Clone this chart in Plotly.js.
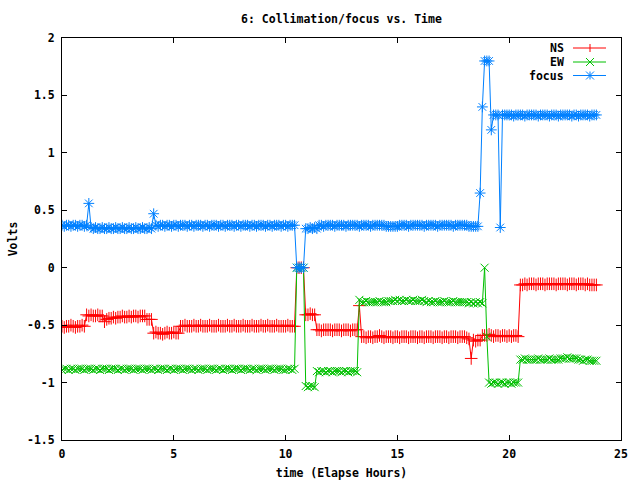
<!DOCTYPE html>
<html>
<head>
<meta charset="utf-8">
<script src="https://cdn.plot.ly/plotly-3.0.1.min.js"></script>
<style>html,body{margin:0;padding:0;background:#fff;}#chart{width:640px;height:480px;}</style>
</head>
<body>
<div id="chart"></div>
<script>
// Elapsed time in hours (one sample every 6 minutes)
const hours = [
 0.0,0.1,0.2,0.3,0.4,0.5,0.6,0.7,0.8,0.9,
 1.0,1.1,1.2,1.3,1.4,1.5,1.6,1.7,1.8,1.9,
 2.0,2.1,2.2,2.3,2.4,2.5,2.6,2.7,2.8,2.9,
 3.0,3.1,3.2,3.3,3.4,3.5,3.6,3.7,3.8,3.9,
 4.0,4.1,4.2,4.3,4.4,4.5,4.6,4.7,4.8,4.9,
 5.0,5.1,5.2,5.3,5.4,5.5,5.6,5.7,5.8,5.9,
 6.0,6.1,6.2,6.3,6.4,6.5,6.6,6.7,6.8,6.9,
 7.0,7.1,7.2,7.3,7.4,7.5,7.6,7.7,7.8,7.9,
 8.0,8.1,8.2,8.3,8.4,8.5,8.6,8.7,8.8,8.9,
 9.0,9.1,9.2,9.3,9.4,9.5,9.6,9.7,9.8,9.9,
 10.0,10.1,10.2,10.3,10.4,10.5,10.6,10.7,10.8,10.9,
 11.0,11.1,11.2,11.3,11.4,11.5,11.6,11.7,11.8,11.9,
 12.0,12.1,12.2,12.3,12.4,12.5,12.6,12.7,12.8,12.9,
 13.0,13.1,13.2,13.3,13.4,13.5,13.6,13.7,13.8,13.9,
 14.0,14.1,14.2,14.3,14.4,14.5,14.6,14.7,14.8,14.9,
 15.0,15.1,15.2,15.3,15.4,15.5,15.6,15.7,15.8,15.9,
 16.0,16.1,16.2,16.3,16.4,16.5,16.6,16.7,16.8,16.9,
 17.0,17.1,17.2,17.3,17.4,17.5,17.6,17.7,17.8,17.9,
 18.0,18.1,18.2,18.3,18.4,18.5,18.6,18.7,18.8,18.9,
 19.0,19.1,19.2,19.3,19.4,19.5,19.6,19.7,19.8,19.9,
 20.0,20.1,20.2,20.3,20.4,20.5,20.6,20.7,20.8,20.9,
 21.0,21.1,21.2,21.3,21.4,21.5,21.6,21.7,21.8,21.9,
 22.0,22.1,22.2,22.3,22.4,22.5,22.6,22.7,22.8,22.9,
 23.0,23.1,23.2,23.3,23.4,23.5,23.6,23.7,23.8,23.9
];

const ns = [
 -0.51,-0.52,-0.51,-0.51,-0.50,-0.51,-0.52,-0.51,-0.51,-0.50,
 -0.51,-0.41,-0.42,-0.41,-0.42,-0.42,-0.41,-0.42,-0.42,-0.47,
 -0.45,-0.44,-0.44,-0.43,-0.44,-0.43,-0.43,-0.42,-0.43,-0.43,
 -0.42,-0.43,-0.42,-0.42,-0.43,-0.42,-0.42,-0.42,-0.45,-0.45,
 -0.45,-0.57,-0.56,-0.57,-0.57,-0.58,-0.57,-0.56,-0.57,-0.57,
 -0.56,-0.57,-0.57,-0.51,-0.51,-0.50,-0.51,-0.51,-0.51,-0.50,
 -0.51,-0.51,-0.50,-0.51,-0.51,-0.51,-0.50,-0.51,-0.51,-0.51,
 -0.50,-0.51,-0.51,-0.51,-0.50,-0.51,-0.51,-0.50,-0.51,-0.51,
 -0.51,-0.50,-0.51,-0.51,-0.51,-0.50,-0.51,-0.51,-0.51,-0.50,
 -0.51,-0.51,-0.50,-0.51,-0.51,-0.51,-0.50,-0.51,-0.51,-0.51,
 -0.51,-0.50,-0.51,-0.51,-0.51,0.00,0.00,0.00,0.00,-0.41,
 -0.41,-0.40,-0.41,-0.41,-0.54,-0.54,-0.55,-0.54,-0.54,-0.54,
 -0.54,-0.55,-0.54,-0.54,-0.54,-0.55,-0.54,-0.54,-0.54,-0.55,
 -0.54,-0.54,-0.54,-0.33,-0.60,-0.60,-0.61,-0.60,-0.60,-0.61,
 -0.60,-0.60,-0.59,-0.60,-0.61,-0.60,-0.60,-0.60,-0.61,-0.60,
 -0.60,-0.61,-0.60,-0.60,-0.60,-0.61,-0.60,-0.60,-0.60,-0.61,
 -0.60,-0.60,-0.61,-0.60,-0.60,-0.60,-0.61,-0.60,-0.60,-0.60,
 -0.61,-0.60,-0.60,-0.61,-0.60,-0.60,-0.60,-0.61,-0.60,-0.60,
 -0.60,-0.61,-0.62,-0.79,-0.63,-0.64,-0.63,-0.63,-0.59,-0.59,
 -0.59,-0.58,-0.59,-0.60,-0.59,-0.59,-0.60,-0.59,-0.59,-0.60,
 -0.59,-0.60,-0.59,-0.59,-0.60,-0.15,-0.15,-0.14,-0.15,-0.14,
 -0.14,-0.14,-0.15,-0.14,-0.14,-0.14,-0.15,-0.14,-0.14,-0.14,
 -0.14,-0.15,-0.14,-0.14,-0.14,-0.14,-0.15,-0.14,-0.14,-0.14,
 -0.15,-0.14,-0.14,-0.14,-0.15,-0.14,-0.15,-0.15,-0.15,-0.15
];

const ew = [
 -0.89,-0.88,-0.88,-0.89,-0.88,-0.88,-0.89,-0.88,-0.88,-0.88,
 -0.89,-0.88,-0.88,-0.88,-0.89,-0.88,-0.88,-0.89,-0.88,-0.88,
 -0.88,-0.89,-0.88,-0.88,-0.88,-0.89,-0.88,-0.88,-0.89,-0.88,
 -0.88,-0.88,-0.89,-0.88,-0.88,-0.88,-0.89,-0.88,-0.88,-0.88,
 -0.89,-0.88,-0.88,-0.89,-0.88,-0.88,-0.88,-0.89,-0.88,-0.88,
 -0.89,-0.88,-0.88,-0.88,-0.89,-0.88,-0.88,-0.88,-0.89,-0.88,
 -0.88,-0.89,-0.88,-0.88,-0.88,-0.89,-0.88,-0.88,-0.88,-0.89,
 -0.88,-0.88,-0.89,-0.88,-0.88,-0.88,-0.89,-0.88,-0.88,-0.88,
 -0.89,-0.88,-0.88,-0.88,-0.89,-0.88,-0.88,-0.89,-0.88,-0.88,
 -0.88,-0.89,-0.88,-0.88,-0.88,-0.89,-0.88,-0.88,-0.88,-0.89,
 -0.89,-0.88,-0.88,-0.89,-0.88,0.00,0.00,0.00,0.00,-1.03,
 -1.04,-1.03,-1.03,-1.04,-0.90,-0.91,-0.90,-0.90,-0.91,-0.90,
 -0.90,-0.91,-0.90,-0.90,-0.90,-0.91,-0.90,-0.90,-0.91,-0.90,
 -0.90,-0.90,-0.91,-0.28,-0.30,-0.30,-0.29,-0.30,-0.30,-0.30,
 -0.30,-0.30,-0.29,-0.30,-0.30,-0.30,-0.29,-0.29,-0.29,-0.28,
 -0.29,-0.28,-0.29,-0.29,-0.28,-0.29,-0.29,-0.28,-0.29,-0.29,
 -0.29,-0.28,-0.29,-0.30,-0.29,-0.30,-0.30,-0.29,-0.30,-0.30,
 -0.30,-0.29,-0.30,-0.30,-0.30,-0.29,-0.30,-0.30,-0.30,-0.30,
 -0.30,-0.30,-0.31,-0.30,-0.31,-0.30,-0.31,-0.30,-0.31,0.00,
 -0.60,-1.00,-1.01,-1.00,-1.00,-1.01,-1.00,-1.00,-1.01,-1.00,
 -1.00,-1.01,-1.00,-1.00,-1.00,-0.80,-0.80,-0.79,-0.80,-0.80,
 -0.80,-0.80,-0.80,-0.79,-0.80,-0.80,-0.80,-0.80,-0.79,-0.80,
 -0.80,-0.80,-0.80,-0.79,-0.79,-0.79,-0.78,-0.79,-0.79,-0.79,
 -0.79,-0.80,-0.80,-0.81,-0.80,-0.80,-0.81,-0.81,-0.81,-0.81
];

const focus = [
 0.37,0.36,0.37,0.37,0.36,0.37,0.37,0.36,0.37,0.37,
 0.36,0.37,0.56,0.35,0.34,0.35,0.34,0.34,0.35,0.34,
 0.34,0.35,0.34,0.34,0.35,0.34,0.34,0.35,0.34,0.34,
 0.35,0.34,0.34,0.35,0.34,0.34,0.35,0.34,0.34,0.35,
 0.34,0.47,0.37,0.36,0.37,0.37,0.36,0.37,0.37,0.36,
 0.37,0.37,0.36,0.37,0.37,0.37,0.36,0.37,0.37,0.36,
 0.37,0.37,0.37,0.36,0.37,0.37,0.36,0.37,0.37,0.37,
 0.36,0.37,0.37,0.36,0.37,0.37,0.37,0.36,0.37,0.37,
 0.36,0.37,0.37,0.37,0.36,0.37,0.37,0.36,0.37,0.37,
 0.37,0.36,0.37,0.37,0.36,0.37,0.37,0.37,0.36,0.37,
 0.37,0.36,0.37,0.37,0.37,0.00,0.00,0.00,0.00,0.34,
 0.34,0.35,0.34,0.35,0.34,0.37,0.37,0.36,0.37,0.37,
 0.37,0.37,0.36,0.37,0.37,0.37,0.37,0.36,0.37,0.37,
 0.37,0.37,0.37,0.36,0.37,0.37,0.37,0.37,0.36,0.37,
 0.37,0.37,0.37,0.37,0.37,0.36,0.36,0.36,0.36,0.36,
 0.36,0.37,0.37,0.37,0.37,0.36,0.37,0.37,0.37,0.37,
 0.37,0.37,0.36,0.37,0.37,0.37,0.37,0.37,0.36,0.37,
 0.37,0.37,0.37,0.37,0.37,0.36,0.37,0.37,0.37,0.37,
 0.37,0.37,0.36,0.36,0.36,0.36,0.36,0.65,1.40,1.80,
 1.80,1.80,1.20,1.33,1.33,1.33,0.35,1.33,1.33,1.33,
 1.33,1.33,1.32,1.33,1.33,1.33,1.33,1.32,1.33,1.33,
 1.33,1.33,1.33,1.32,1.33,1.33,1.33,1.33,1.32,1.33,
 1.33,1.33,1.32,1.33,1.33,1.33,1.33,1.33,1.32,1.33,
 1.33,1.32,1.33,1.33,1.33,1.33,1.32,1.33,1.33,1.33
];

const seriesNames = ["NS", "EW", "focus"];
const seriesColors = ["#ff0000", "#00c000", "#0080ff"];
const seriesSymbols = ["cross-thin", "x-thin", "asterisk"];

const xTickVals = [0, 5, 10, 15, 20, 25];
const xTickText = ["0", "5", "10", "15", "20", "25"];
const yTickVals = [-1.5, -1, -0.5, 0, 0.5, 1, 1.5, 2];
const yTickText = ["-1.5", "-1", "-0.5", "0", "0.5", "1", "1.5", "2"];

const FONT = {family: "DejaVu Sans Mono, Liberation Mono, monospace", size: 11.5, color: "#000", weight: "bold"};

const ys = [ns, ew, focus];
const traces = ys.map((y, k) => ({
  type: "scatter",
  mode: "lines+markers",
  name: seriesNames[k],
  x: hours,
  y: y,
  line: {color: seriesColors[k], width: 1},
  marker: {symbol: seriesSymbols[k], size: k === 1 ? 8 : 9, color: seriesColors[k],
           line: {color: seriesColors[k], width: 1}},
  showlegend: false
}));

// Plot area in pixels: left 62, right 621, top 38, bottom 440
const L = 62, R = 621, T = 38, B = 440;
const px = v => (v - L) / (R - L);
const py = v => (B - v) / (B - T);

// Hand-drawn gnuplot-style key (text right-aligned, sample line + point glyph on its right)
const legendRows = [48, 62, 75.5];
const shapes = [];
const annotations = [];
function seg(x0, y0, x1, y1, color) {
  shapes.push({type: "line", xref: "paper", yref: "paper", x0: px(x0), x1: px(x1), y0: py(y0), y1: py(y1),
    line: {color: color, width: 1}});
}
legendRows.forEach((row, k) => {
  const c = seriesColors[k];
  annotations.push({xref: "paper", yref: "paper", x: px(566), y: py(row), xanchor: "right", yanchor: "middle",
    text: seriesNames[k], showarrow: false, font: FONT});
  seg(573, row, 606, row, c);
  const cx = 590, h = 4;
  if (k === 0) { seg(cx, row - h, cx, row + h, c); }
  else if (k === 1) { seg(cx - h, row - h, cx + h, row + h, c); seg(cx - h, row + h, cx + h, row - h, c); }
  else { seg(cx, row - h, cx, row + h, c); seg(cx - h, row - h, cx + h, row + h, c); seg(cx - h, row + h, cx + h, row - h, c); }
});

const layout = {
  width: 640, height: 480,
  margin: {l: L, r: 640 - R, t: T, b: 480 - B, pad: 0},
  paper_bgcolor: "#fff", plot_bgcolor: "#fff",
  font: FONT,
  showlegend: false,
  title: {text: "6: Collimation/focus vs. Time", font: FONT, xref: "paper", x: 0.5, xanchor: "center",
          yref: "container", y: 1 - 19 / 480, yanchor: "middle"},
  xaxis: {
    range: [0, 25], tickvals: xTickVals, ticktext: xTickText,
    showgrid: false, zeroline: false, showline: true, linecolor: "#000", linewidth: 1, mirror: "ticks",
    ticks: "inside", ticklen: 5, tickcolor: "#000", tickfont: FONT, ticklabelstandoff: 3,
    title: {text: "time (Elapse Hours)", font: FONT, standoff: 9}
  },
  yaxis: {
    range: [-1.5, 2], tickvals: yTickVals, ticktext: yTickText,
    showgrid: false, zeroline: false, showline: true, linecolor: "#000", linewidth: 1, mirror: "ticks",
    ticks: "inside", ticklen: 5, tickcolor: "#000", tickfont: FONT, ticklabelstandoff: 4,
    title: {text: "Volts", font: FONT, standoff: 6}
  },
  shapes: shapes,
  annotations: annotations
};

Plotly.newPlot("chart", traces, layout, {displayModeBar: false, staticPlot: true});
</script>
</body>
</html>
